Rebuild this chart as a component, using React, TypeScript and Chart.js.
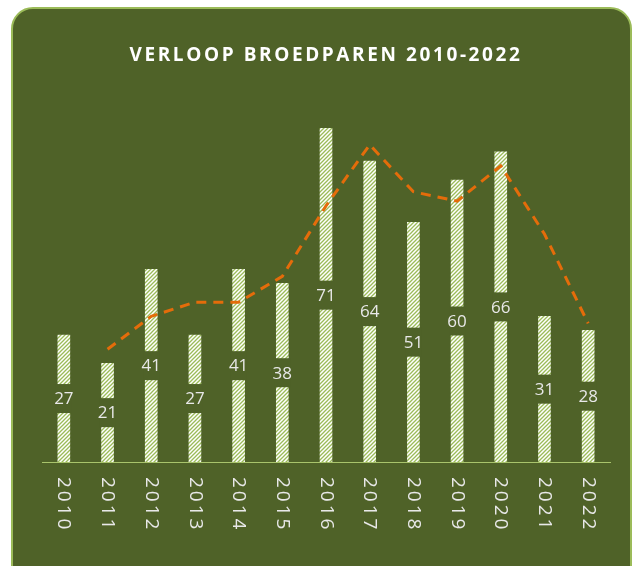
import React, { useEffect, useRef } from "react";
import { Chart, registerables } from "chart.js";

Chart.register(...registerables);

const years = ["2010", "2011", "2012", "2013", "2014", "2015", "2016", "2017", "2018", "2019", "2020", "2021", "2022"];
const pairs = [27, 21, 41, 27, 41, 38, 71, 64, 51, 60, 66, 31, 28];
const trend = [null, 24, 31, 34, 34, 39.5, 54.5, 67.5, 57.5, 55.5, 63, 48.5, 29.5];
const titleText = "VERLOOP BROEDPAREN 2010-2022";

const BG = "#4F6228";
const BORDER = "#9BBB59";
const TEXT = "#E8E8E8";
const ORANGE = "#E46C0A";

function makeHatch(): CanvasPattern | string {
  const c = document.createElement("canvas");
  c.width = 4;
  c.height = 4;
  const g = c.getContext("2d");
  if (!g) return "#ffffff";
  g.fillStyle = "#ffffff";
  g.fillRect(0, 0, 4, 4);
  g.strokeStyle = "#9BBB59";
  g.lineWidth = 1.3;
  g.beginPath();
  g.moveTo(-1, 5);
  g.lineTo(5, -1);
  g.moveTo(-1, 1);
  g.lineTo(1, -1);
  g.moveTo(3, 5);
  g.lineTo(5, 3);
  g.stroke();
  const p = g.createPattern(c, "repeat");
  return p || "#ffffff";
}

const labelPlugin = {
  id: "customLabels",
  afterDatasetDraw(chart: any, args: any) {
    if (args.index !== 1) return;
    const ctx = chart.ctx;
    const meta = args.meta;
    ctx.save();
    ctx.font = "17px 'Open Sans'";
    ctx.textAlign = "center";
    ctx.textBaseline = "middle";
    meta.data.forEach((el: any, i: number) => {
      const cy = (el.y + el.base) / 2;
      const w = el.width + 4;
      ctx.fillStyle = BG;
      ctx.fillRect(el.x - w / 2, cy - 14.5, w, 29);
      ctx.fillStyle = TEXT;
      ctx.fillText(String(pairs[i]), el.x, cy + 1);
    });
    ctx.restore();
  },
  afterDraw(chart: any) {
    const ctx = chart.ctx;
    const xs = chart.scales.x;
    ctx.save();
    // title
    ctx.font = "bold 19px 'Open Sans'";
    (ctx as any).letterSpacing = "2.6px";
    ctx.fillStyle = "#ffffff";
    ctx.textAlign = "center";
    ctx.textBaseline = "middle";
    ctx.fillText(titleText, 326, 56);
    // x labels rotated clockwise
    ctx.font = "19px 'Open Sans'";
    (ctx as any).letterSpacing = "3px";
    ctx.fillStyle = TEXT;
    ctx.textAlign = "left";
    ctx.textBaseline = "middle";
    years.forEach((y, i) => {
      const x = xs.getPixelForValue(i);
      ctx.save();
      ctx.translate(x, 477);
      ctx.rotate(Math.PI / 2);
      ctx.fillText(y, 0, 0);
      ctx.restore();
    });
    ctx.restore();
  },
};

export default function App() {
  const ref = useRef<HTMLCanvasElement>(null);
  useEffect(() => {
    if (!ref.current) return;
    const hatch = makeHatch();
    const chart = new Chart(ref.current, {
      type: "bar",
      data: {
        labels: years,
        datasets: [
          {
            type: "line",
            data: trend as any,
            borderColor: ORANGE,
            borderWidth: 3,
            borderDash: [10, 7],
            pointRadius: 0,
            fill: false,
            tension: 0,
            order: 0,
          } as any,
          {
            type: "bar",
            data: pairs,
            backgroundColor: hatch as any,
            borderWidth: 0,
            barThickness: 12,
            order: 1,
          },
        ],
      },
      options: {
        responsive: false,
        animation: false,
        devicePixelRatio: 1,
        layout: { padding: { left: 42, right: 23, top: 86, bottom: 104 } },
        plugins: { legend: { display: false }, tooltip: { enabled: false }, title: { display: false } },
        scales: {
          x: {
            grid: { display: false, drawTicks: false },
            ticks: { display: false },
            border: { display: true, color: "#A9C46C", width: 1 },
          },
          y: {
            display: false,
            min: 0,
            max: 80,
          },
        },
      },
      plugins: [labelPlugin],
    });
    return () => chart.destroy();
  }, []);
  return (
    <div style={{ position: "fixed", left: 0, top: 0, width: 633, height: 566, overflow: "hidden", background: "#ffffff" }}>
      <div
        style={{
          position: "absolute",
          left: 11,
          top: 7,
          width: 621,
          height: 620,
          boxSizing: "border-box",
          borderRadius: 22,
          border: `2px solid ${BORDER}`,
          background: BG,
        }}
      />
      <canvas ref={ref} width={633} height={566} style={{ position: "absolute", left: 0, top: 0, width: 633, height: 566 }} />
    </div>
  );
}
